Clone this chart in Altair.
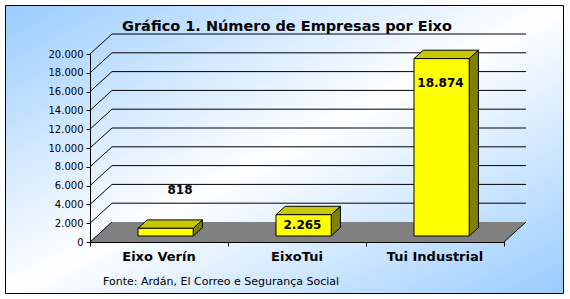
import altair as alt
import pandas as pd

# ---------------- data ----------------
categories = ["Eixo Verín", "EixoTui", "Tui Industrial"]
values = [818, 2265, 18874]
y_ticks = [0, 2000, 4000, 6000, 8000, 10000, 12000, 14000, 16000, 18000, 20000]
title_text = "Gráfico 1. Número de Empresas por Eixo"
source_text = "Fonte: Ardán, El Correo e Segurança Social"

# ---------------- layout / style ----------------
W, H = 414, 188
PAD = {"left": 90, "top": 54, "right": 66, "bottom": 57}
Y_MAX = y_ticks[-1]
N = len(categories)
DEPTH_PX = (22, 20)                 # 3D depth offset in pixels
DX = DEPTH_PX[0] * N / W            # in x data units
DY = DEPTH_PX[1] * Y_MAX / H        # in y data units
F0, F1 = 0.3, 0.72                  # bar depth (fraction of floor depth)
BAR_L, BAR_R = 0.3, 0.7             # bar extent within band
FRONT, TOP, SIDE = "#FFFF00", "#C8C800", "#808000"
FLOOR = "#808080"
LABEL_OFFSETS = {"Eixo Verín": (21, -44), "EixoTui": (5.5, 4), "Tui Industrial": (5.5, 18)}

fmt = "replace(format(datum.value, ',d'), ',', '.')"

xscale = alt.Scale(domain=[0, N], nice=False, zero=False)
yscale = alt.Scale(domain=[0, Y_MAX], nice=False, zero=False)
x_axis = alt.Axis(values=list(range(N + 1)), labels=False, tickSize=4, tickColor="black",
                  domainColor="black", grid=False, title=None, zindex=1)
y_axis = alt.Axis(values=y_ticks, labelExpr=fmt, tickSize=4, tickColor="black",
                  domainColor="black", labelColor="black", labelFont="DejaVu Sans",
                  labelFontSize=10, labelPadding=3, grid=False, title=None, zindex=1)


def X(f, **kw):
    return alt.X(f, type="quantitative", scale=xscale, axis=x_axis, **kw)


def Y(f, **kw):
    return alt.Y(f, type="quantitative", scale=yscale, axis=y_axis, **kw)


# ---------------- derived tables ----------------
bars = pd.DataFrame({"category": categories, "value": values, "i": list(range(N))})
bars["fx0"] = bars["i"] + BAR_L + F0 * DX
bars["fx1"] = bars["i"] + BAR_R + F0 * DX
bars["fy0"] = F0 * DY
bars["fy1"] = bars["value"] + F0 * DY
bars["cx"] = bars["i"] + 0.5
bars["zero"] = 0

top_rows, side_rows = [], []
for c, v, i in zip(categories, values, range(N)):
    for f in (F0, F1):
        top_rows.append({"category": c, "yy": v + f * DY,
                         "xa": i + BAR_L + f * DX, "xb": i + BAR_R + f * DX})
        side_rows.append({"category": c, "xx": i + BAR_R + f * DX,
                          "ya": f * DY, "yb": v + f * DY})
top_df = pd.DataFrame(top_rows)
side_df = pd.DataFrame(side_rows)

floor_df = pd.DataFrame({"yy": [0, DY], "xa": [0, DX], "xb": [N, N + DX]})
diag_df = pd.DataFrame({"x0": [0] * len(y_ticks), "y0": y_ticks,
                        "x1": [DX] * len(y_ticks), "y1": [t + DY for t in y_ticks]})
diag_df = pd.concat([diag_df, pd.DataFrame({"x0": [N], "y0": [0], "x1": [N + DX], "y1": [DY]})],
                    ignore_index=True)
back_df = pd.DataFrame({"xa": [DX] * (len(y_ticks) - 1), "xb": [N + DX] * (len(y_ticks) - 1),
                        "yy": [t + DY for t in y_ticks[1:]]})
one = pd.DataFrame({"k": [0]})

# ---------------- layers ----------------
gradient = alt.LinearGradient(
    gradient="linear", x1=0, y1=0, x2=1, y2=1,
    stops=[alt.GradientStop(color="#99CCFF", offset=0),
           alt.GradientStop(color="#FFFFFF", offset=0.5),
           alt.GradientStop(color="#99CCFF", offset=1)])

bg = alt.Chart(one).mark_rect(fill=gradient, stroke="black", strokeWidth=1).encode(
    x=alt.value(5.5 - PAD["left"]), x2=alt.value(563.5 - PAD["left"]),
    y=alt.value(5.5 - PAD["top"]), y2=alt.value(293.5 - PAD["top"]))

floor = alt.Chart(floor_df).mark_area(orient="horizontal", fill=FLOOR, opacity=1).encode(
    y=Y("yy"), x=X("xa"), x2="xb")

diag = alt.Chart(diag_df).mark_rule(color="black", strokeWidth=1).encode(
    x=X("x0"), y=Y("y0"), x2="x1", y2="y1")

back = alt.Chart(back_df).mark_rule(color="black", strokeWidth=1).encode(
    x=X("xa"), x2="xb", y=Y("yy"))

side = alt.Chart(side_df).mark_area(orient="vertical", fill=SIDE, stroke="black",
                                    strokeWidth=1, opacity=1).encode(
    x=X("xx"), y=Y("ya", stack=None), y2="yb", detail="category:N")

top = alt.Chart(top_df).mark_area(orient="horizontal", fill=TOP, stroke="black",
                                  strokeWidth=1, opacity=1).encode(
    y=Y("yy"), x=X("xa", stack=None), x2="xb", detail="category:N")

front = alt.Chart(bars).mark_rect(fill=FRONT, stroke="black", strokeWidth=1).encode(
    x=X("fx0"), x2="fx1", y=Y("fy0"), y2="fy1")

label_layers = []
for c in categories:
    dx, dy = LABEL_OFFSETS[c]
    label_layers.append(
        alt.Chart(bars).transform_filter(alt.datum.category == c)
        .transform_calculate(lbl="replace(format(datum.value, ',d'), ',', '.')")
        .mark_text(font="DejaVu Sans", fontWeight="bold", fontSize=12, color="black",
                   align="center", baseline="middle", dx=dx, dy=dy)
        .encode(x=X("cx"), y=Y("value"), text="lbl:N"))

cat_labels = alt.Chart(bars).mark_text(
    font="DejaVu Sans", fontWeight="bold", fontSize=13, color="black",
    align="center", baseline="alphabetic", dy=19).encode(
    x=X("cx"), y=Y("zero"), text="category:N")

title = alt.Chart(one).mark_text(
    text=title_text, font="DejaVu Sans", fontWeight="bold", fontSize=14.5, color="black",
    align="center", baseline="alphabetic").encode(
    x=alt.value(287 - PAD["left"]), y=alt.value(31 - PAD["top"]))

footer = alt.Chart(one).mark_text(
    text=source_text, font="DejaVu Sans", fontSize=11, color="black",
    align="left", baseline="alphabetic").encode(
    x=alt.value(103 - PAD["left"]), y=alt.value(285 - PAD["top"]))

chart = alt.layer(
    bg, floor, diag, back, side, top, front, *label_layers, cat_labels, title, footer
).properties(
    width=W, height=H,
    autosize=alt.AutoSizeParams(type="none"),
    padding=PAD,
    background="white",
).configure_view(stroke=None)

chart.save("out.html", embed_options={"renderer": "svg", "actions": False})
